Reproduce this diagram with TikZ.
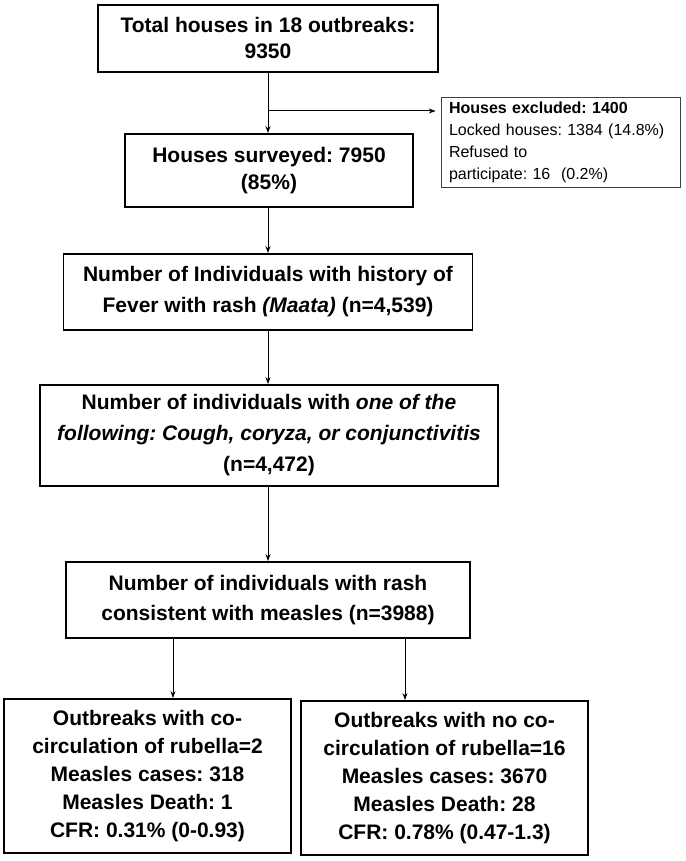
\documentclass[tikz,border=0pt]{standalone}
\usepackage{fontspec}
\setmainfont{Liberation Sans}
\usetikzlibrary{arrows.meta,calc}
\frenchspacing
\begin{document}
\begin{tikzpicture}[x=1pt,y=-1pt,
  box/.style={draw,line width=1.8pt,align=center,inner sep=0pt},
  bfont/.style={font=\fontsize{21}{#1}\selectfont\bfseries},
  arr/.style={line width=1pt,-{Stealth[length=7pt,width=5pt]}}]
\useasboundingbox (0,0) rectangle (685,861);
\node[box,bfont=26,minimum width=340pt,minimum height=67pt] (b1) at (268,38.5) {Total houses in 18 outbreaks:\\9350};
\node[box,bfont=27,minimum width=288pt,minimum height=73pt] (b2) at (269,170.5) {Houses surveyed: 7950\\(85\%)};
\node[draw=black!75,line width=0.7pt,inner sep=0pt,minimum width=239pt,minimum height=90pt,text width=223pt,align=left,font=\fontsize{16}{22}\selectfont] (ex) at (560.5,142) {\textbf{Houses excluded: 1400}\\Locked houses: 1384 (14.8\%)\\Refused to\\participate: 16\ \ (0.2\%)};
\node[box,bfont=31,minimum width=409pt,minimum height=76pt] (b3) at (268,292) {Number of Individuals with history of\\Fever with rash \textit{(Maata)} (n=4,539)};
\node[box,bfont=31,minimum width=458pt,minimum height=101pt] (b4) at (269,435.5) {Number of individuals with \textit{one of the}\\\textit{following: Cough, coryza, or conjunctivitis}\\(n=4,472)};
\node[box,bfont=30,minimum width=404pt,minimum height=76pt] (b5) at (268,600) {Number of individuals with rash\\consistent with measles (n=3988)};
\node[box,bfont=28,minimum width=287pt,minimum height=154pt] (bl) at (147.5,776) {Outbreaks with co-\\circulation of rubella=2\\Measles cases: 318\\Measles Death: 1\\CFR: 0.31\% (0-0.93)};
\node[box,bfont=28,minimum width=287pt,minimum height=154pt] (br) at (444.5,778) {Outbreaks with no co-\\circulation of rubella=16\\Measles cases: 3670\\Measles Death: 28\\CFR: 0.78\% (0.47-1.3)};
\coordinate (fork) at (268,111);
\coordinate (la) at (173,0);
\coordinate (ra) at (405,0);
\draw[arr] (b1.south) -- (b1.south |- b2.north);
\draw[arr] (fork) -- ([xshift=-5pt]fork -| ex.west);
\draw[arr] (b1.south |- b2.south) -- (b1.south |- b3.north);
\draw[arr] (b1.south |- b3.south) -- (b1.south |- b4.north);
\draw[arr] (b1.south |- b4.south) -- (b1.south |- b5.north);
\draw[arr] (b5.south -| la) -- (bl.north -| la);
\draw[arr] (b5.south -| ra) -- (br.north -| ra);
\end{tikzpicture}
\end{document}
